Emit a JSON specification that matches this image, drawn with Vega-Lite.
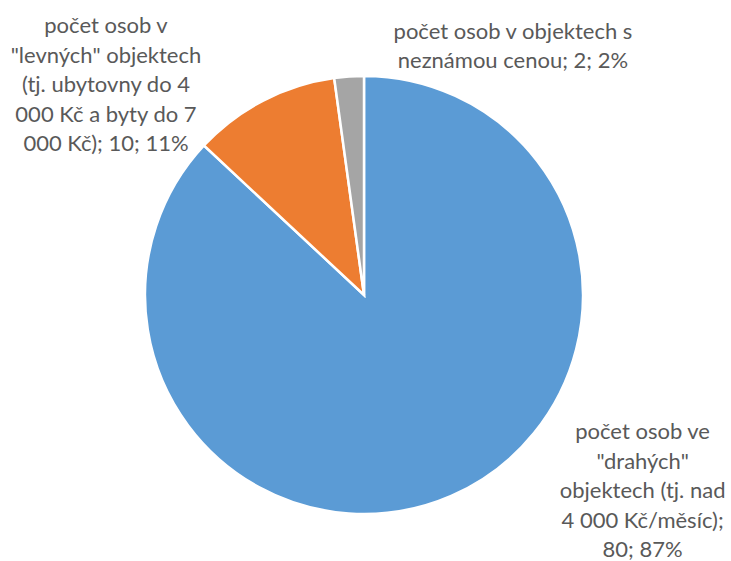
{
  "$schema": "https://vega.github.io/schema/vega-lite/v6.json",
  "width": 728,
  "height": 532,
  "autosize": "none",
  "padding": {"left": 0, "top": 29, "right": 3, "bottom": 0},
  "background": "white",
  "config": {"view": {"stroke": null}},
  "data": {
    "values": [
      {"cat": "drahé", "value": 80, "label": "počet osob ve|\"drahých\"|objektech (tj. nad|4 000 Kč/měsíc);|80; 87%"},
      {"cat": "levné", "value": 10, "label": "počet osob v|\"levných\" objektech|(tj. ubytovny do 4|000 Kč a byty do 7|000 Kč); 10; 11%"},
      {"cat": "neznámé", "value": 2, "label": "počet osob v objektech s|neznámou cenou; 2; 2%"}
    ]
  },
  "encoding": {
    "theta": {"field": "value", "type": "quantitative", "stack": true},
    "order": {"field": "value", "type": "quantitative", "sort": "descending"}
  },
  "layer": [
    {
      "mark": {"type": "arc", "outerRadius": 219, "stroke": "white", "strokeWidth": 2.5},
      "encoding": {
        "color": {
          "field": "cat",
          "type": "nominal",
          "scale": {"domain": ["drahé", "levné", "neznámé"], "range": ["#5B9BD5", "#ED7D31", "#A5A5A5"]},
          "legend": null
        }
      }
    },
    {
      "mark": {"type": "text", "radius": 250, "dx": -143, "dy": -47, "font": "Lato", "fontSize": 22, "color": "#595959", "lineBreak": "|", "lineHeight": 29.5, "align": "center", "baseline": "middle"},
      "encoding": {
        "text": {"condition": {"test": "datum.cat === 'levné'", "field": "label"}, "value": ""}
      }
    },
    {
      "mark": {"type": "text", "radius": 250, "dx": 166, "dy": -14, "font": "Lato", "fontSize": 22, "color": "#595959", "lineBreak": "|", "lineHeight": 29.5, "align": "center", "baseline": "middle"},
      "encoding": {
        "text": {"condition": {"test": "datum.cat === 'neznámé'", "field": "label"}, "value": ""}
      }
    },
    {
      "mark": {"type": "text", "radius": 250, "dx": 179, "dy": -92, "font": "Lato", "fontSize": 22, "color": "#595959", "lineBreak": "|", "lineHeight": 29.5, "align": "center", "baseline": "middle"},
      "encoding": {
        "text": {"condition": {"test": "datum.cat === 'drahé'", "field": "label"}, "value": ""}
      }
    }
  ]
}
